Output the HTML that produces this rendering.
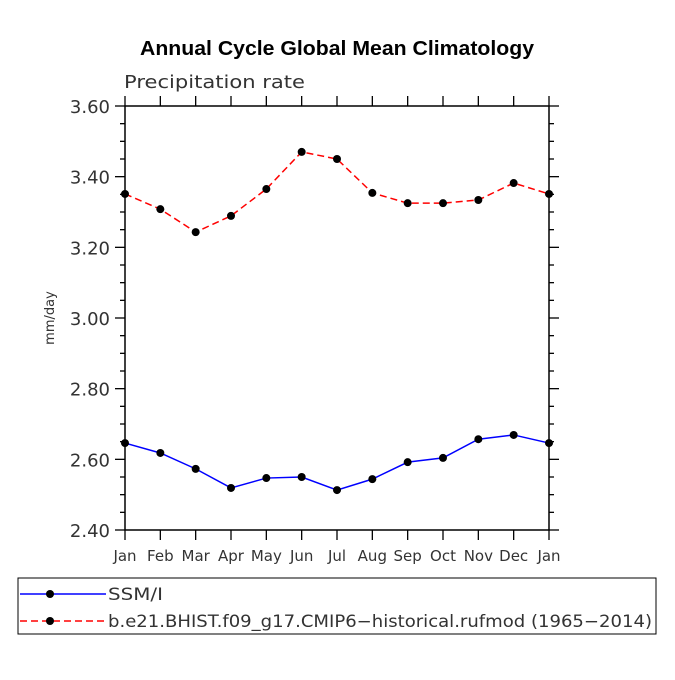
<!DOCTYPE html>
<html><head><meta charset="utf-8"><style>
body{margin:0;background:#fff;}
svg text{font-family:"DejaVu Sans","Liberation Sans",sans-serif;}
</style></head><body>
<svg id="chart" width="675" height="675" viewBox="0 0 675 675" xmlns="http://www.w3.org/2000/svg">
<text x="140" y="55" textLength="394" lengthAdjust="spacingAndGlyphs" font-weight="bold" font-size="20" style="font-family:'Liberation Sans',sans-serif">Annual Cycle Global Mean Climatology</text>
<text x="124" y="88" textLength="181" lengthAdjust="spacingAndGlyphs" font-size="18" fill="#333">Precipitation rate</text>
<text transform="translate(54,318) rotate(-90)" text-anchor="middle" font-size="13" fill="#333">mm/day</text>
<g id="axes"></g>
<g id="series"></g>
<g>
<rect x="18" y="578" width="638" height="56" fill="none" stroke="#000" stroke-width="1"/>
<g>
<line x1="20" y1="594" x2="106" y2="594" stroke="#00f" stroke-width="1.5"/>
<circle cx="50" cy="594" r="4" fill="#000"/>
<text x="108" y="600" textLength="55" lengthAdjust="spacingAndGlyphs" font-size="17" fill="#333">SSM/I</text></g>
<g>
<line x1="20" y1="621" x2="106" y2="621" stroke="#f00" stroke-width="1.5" stroke-dasharray="7,4"/>
<circle cx="50" cy="621" r="4" fill="#000"/>
<text x="108" y="627" textLength="544" lengthAdjust="spacingAndGlyphs" font-size="17" fill="#333">b.e21.BHIST.f09_g17.CMIP6−historical.rufmod (1965−2014)</text></g>
</g>
</svg>
<script>
const months=["Jan","Feb","Mar","Apr","May","Jun","Jul","Aug","Sep","Oct","Nov","Dec","Jan"];
const ssmi=[2.646,2.618,2.573,2.519,2.547,2.550,2.513,2.544,2.592,2.604,2.657,2.669,2.646];
const model=[3.351,3.308,3.243,3.289,3.365,3.470,3.450,3.354,3.325,3.325,3.334,3.382,3.351];
const yTicks=["2.40","2.60","2.80","3.00","3.20","3.40","3.60"];
const NS="http://www.w3.org/2000/svg";
const L=125,R=549,T=106,B=530,ymin=2.4,ymax=3.6;
const xs=i=>L+(R-L)*i/(months.length-1);
const ys=v=>B-(v-ymin)/(ymax-ymin)*(B-T);
function mk(tag,at,parent){const e=document.createElementNS(NS,tag);for(const k in at)e.setAttribute(k,at[k]);parent.appendChild(e);return e;}
const ax=document.getElementById('axes');
const fr=mk('rect',{x:L,y:T,width:R-L,height:B-T,fill:'none',stroke:'#000','stroke-width':1.5},ax);


months.forEach((m,i)=>{const x=xs(i);
mk('line',{x1:x,y1:B,x2:x,y2:B+10,stroke:'#000','stroke-width':1.3},ax);
mk('line',{x1:x,y1:T,x2:x,y2:T-10,stroke:'#000','stroke-width':1.3},ax);
const t=mk('text',{x:x,y:B+31,'text-anchor':'middle','font-size':15,fill:'#333'},ax);t.textContent=m;

});
for(let v=ymin;v<=ymax+1e-9;v+=0.05){const y=ys(v);const major=Math.abs(Math.round(v*5)-v*5)<1e-6;const len=major?10:5;
mk('line',{x1:L,y1:y,x2:L-len,y2:y,stroke:'#000','stroke-width':1.3},ax);
mk('line',{x1:R,y1:y,x2:R+len,y2:y,stroke:'#000','stroke-width':1.3},ax);}
yTicks.forEach(s=>{const t=mk('text',{x:L-15,y:ys(parseFloat(s))+7,'text-anchor':'end','font-size':18,fill:'#333'},ax);t.textContent=s;

});
const sg=document.getElementById('series');
function draw(vals,color,dash,name){const g=mk('g',{},sg);


mk('polyline',{points:vals.map((v,i)=>xs(i)+','+ys(v)).join(' '),fill:'none',stroke:color,'stroke-width':1.5,'stroke-dasharray':dash},g);
vals.forEach((v,i)=>{const c=mk('circle',{cx:xs(i),cy:ys(v),r:4,fill:'#000'},g);

});}
draw(ssmi,'#00f','none','ssmi-series');
draw(model,'#f00','7,4','model-series');
</script>
</body></html>
